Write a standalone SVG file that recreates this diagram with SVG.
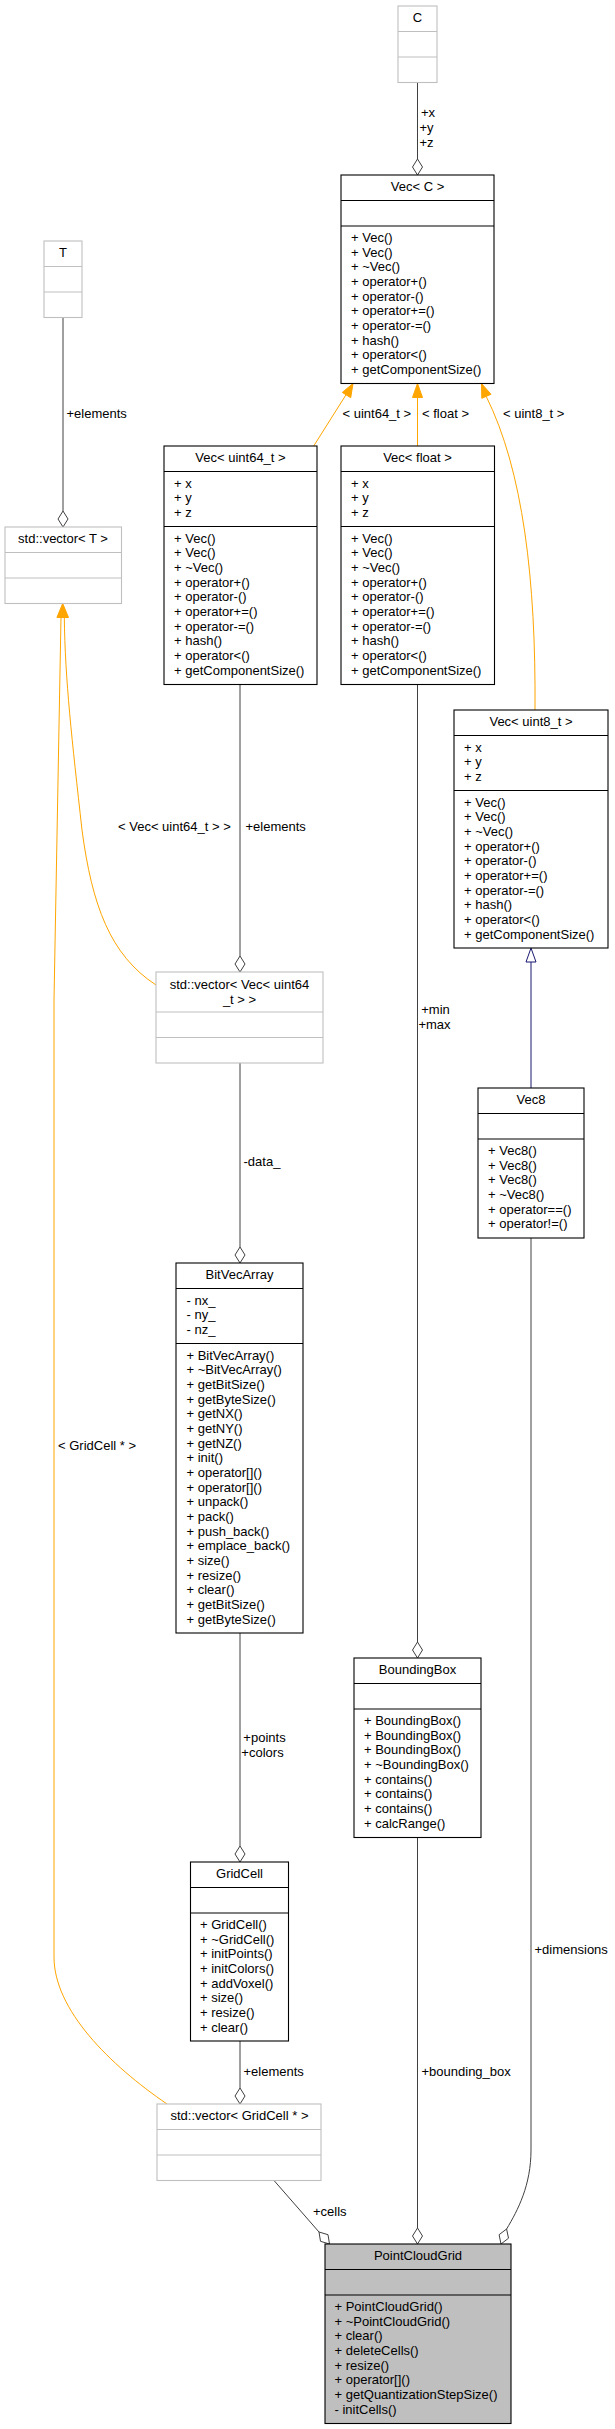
<svg xmlns="http://www.w3.org/2000/svg" width="615" height="2429" viewBox="0 0 615 2429">
<style>
text{font-family:"Liberation Sans",Arial,Helvetica,sans-serif;font-size:13px;fill:#000}
.t{text-anchor:middle}
.m{text-anchor:middle}
.box{fill:#fff;stroke:#000;stroke-width:1.1}
.gbox{fill:#fff;stroke:#bfbfbf;stroke-width:1.1}
.hl{fill:#bfbfbf;stroke:#000;stroke-width:1.1}
.sep{stroke:#000;stroke-width:1.1}
.gsep{stroke:#bfbfbf;stroke-width:1.1}
.e{stroke:#404040;fill:none;stroke-width:1}
.o{stroke:#ffa500;fill:none;stroke-width:1}
.b{stroke:#191970;fill:none;stroke-width:1}
.dia{fill:#fff;stroke:#404040;stroke-width:1}
.oh{fill:#ffa500;stroke:#ffa500}
.bh{fill:#fff;stroke:#191970}
</style>
<rect width="615" height="2429" fill="#fff"/>

<g id="edges">
  <!-- C -> Vec<C> -->
  <path class="e" d="M417.5,82.5V159"/>
  <polygon class="dia" points="417.5,175 422.5,167 417.5,159 412.5,167"/>
  <text x="421" y="117">+x</text>
  <text x="419.5" y="132">+y</text>
  <text x="419.5" y="147">+z</text>
  <!-- Vec<uint64_t> -> Vec<C> -->
  <path class="o" d="M313.7,446L346.5,394"/>
  <polygon class="oh" points="353,383.5 350.7,397.7 342.3,392.4"/>
  <text x="342.5" y="418">&lt; uint64_t &gt;</text>
  <!-- Vec<float> -> Vec<C> -->
  <path class="o" d="M417.5,446V397"/>
  <polygon class="oh" points="417.5,383.5 422.5,397.5 412.5,397.5"/>
  <text x="422" y="418">&lt; float &gt;</text>
  <!-- Vec<uint8_t> -> Vec<C> -->
  <path class="o" d="M535,710C536,580 523,470 486,396"/>
  <polygon class="oh" points="481.5,383.5 491,394.3 481.8,398.3"/>
  <text x="503" y="418">&lt; uint8_t &gt;</text>
  <!-- T -> std::vector<T> -->
  <path class="e" d="M63,317.5V511"/>
  <polygon class="dia" points="63,527 68,519 63,511 58,519"/>
  <text x="66.5" y="418">+elements</text>
  <!-- std::vector<Vec<uint64_t>> -> std::vector<T> -->
  <path class="o" d="M156,985C110,955 92,905 82,830C72,740 65,680 64.3,617"/>
  <!-- std::vector<GridCell*> -> std::vector<T> -->
  <path class="o" d="M167,2104C110,2065 54,2010 54,1957L54,1000L61,617"/>
  <polygon class="oh" points="62.7,603.5 68.5,617.5 56.9,617.5"/>
  <text x="118" y="831">&lt; Vec&lt; uint64_t &gt; &gt;</text>
  <text x="58" y="1450">&lt; GridCell * &gt;</text>
  <!-- Vec<uint64_t> -> std::vector<Vec<uint64_t>> -->
  <path class="e" d="M240,684.5V956"/>
  <polygon class="dia" points="240,972 245,964 240,956 235,964"/>
  <text x="245.5" y="831">+elements</text>
  <!-- Vec<float> -> BoundingBox -->
  <path class="e" d="M417.5,684.5V1642"/>
  <polygon class="dia" points="417.5,1658 422.5,1650 417.5,1642 412.5,1650"/>
  <text class="m" x="435.5" y="1014">+min</text>
  <text class="m" x="434.5" y="1029">+max</text>
  <!-- Vec8 -> Vec<uint8_t> -->
  <path class="b" d="M531,1088V962"/>
  <polygon class="bh" points="531,948 536,962 526,962"/>
  <!-- std::vector<Vec<uint64_t>> -> BitVecArray -->
  <path class="e" d="M240,1063V1247"/>
  <polygon class="dia" points="240,1263 245,1255 240,1247 235,1255"/>
  <text x="243.5" y="1166">-data_</text>
  <!-- BitVecArray -> GridCell -->
  <path class="e" d="M240,1633V1846"/>
  <polygon class="dia" points="240,1862 245,1854 240,1846 235,1854"/>
  <text class="m" x="264.5" y="1742">+points</text>
  <text class="m" x="262.5" y="1757">+colors</text>
  <!-- GridCell -> std::vector<GridCell*> -->
  <path class="e" d="M240,2041V2088"/>
  <polygon class="dia" points="240,2104 245,2096 240,2088 235,2096"/>
  <text x="243.5" y="2076">+elements</text>
  <!-- std::vector<GridCell*> -> PointCloudGrid -->
  <path class="e" d="M274,2180.5L319,2232"/>
  <polygon class="dia" points="329.5,2244 328,2234.7 319,2232 320.5,2241.3"/>
  <text x="313" y="2216">+cells</text>
  <!-- BoundingBox -> PointCloudGrid -->
  <path class="e" d="M417.5,1837.5V2228"/>
  <polygon class="dia" points="417.5,2244 422.5,2236 417.5,2228 412.5,2236"/>
  <text x="421.5" y="2076">+bounding_box</text>
  <!-- Vec8 -> PointCloudGrid -->
  <path class="e" d="M531,1238V2150C531,2185 518,2210 506.6,2229"/>
  <polygon class="dia" points="501,2244 508.5,2238.2 506.6,2229 499.1,2234.7"/>
  <text x="534.5" y="1954">+dimensions</text>
</g>

<g id="node-C">
  <rect class="gbox" x="398" y="6" width="39" height="76.5"/>
  <path class="gsep" d="M398,31.5H437M398,57H437"/>
  <text class="t" x="417.5" y="22">C</text>
</g>

<g id="node-VecC">
  <rect class="box" x="341" y="175" width="153" height="208.5"/>
  <path class="sep" d="M341,200.5H494M341,226H494"/>
  <text class="t" x="417.5" y="191">Vec&lt; C &gt;</text>
  <text x="351" y="242">+ Vec()</text>
  <text x="351" y="256.7">+ Vec()</text>
  <text x="351" y="271.3">+ ~Vec()</text>
  <text x="351" y="286">+ operator+()</text>
  <text x="351" y="300.7">+ operator-()</text>
  <text x="351" y="315.3">+ operator+=()</text>
  <text x="351" y="330">+ operator-=()</text>
  <text x="351" y="344.7">+ hash()</text>
  <text x="351" y="359.3">+ operator&lt;()</text>
  <text x="351" y="374">+ getComponentSize()</text>
</g>

<g id="node-T">
  <rect class="gbox" x="44" y="241" width="38" height="76.5"/>
  <path class="gsep" d="M44,266.5H82M44,292H82"/>
  <text class="t" x="63" y="257">T</text>
</g>

<g id="node-vectorT">
  <rect class="gbox" x="5" y="527" width="116.5" height="76.5"/>
  <path class="gsep" d="M5,552.5H121.5M5,578H121.5"/>
  <text class="t" x="63" y="543">std::vector&lt; T &gt;</text>
</g>

<g id="node-VecUint64">
  <rect class="box" x="164" y="446" width="153" height="238.5"/>
  <path class="sep" d="M164,471.5H317M164,526.5H317"/>
  <text class="t" x="240.5" y="462">Vec&lt; uint64_t &gt;</text>
  <text x="174" y="487.5">+ x</text>
  <text x="174" y="502.2">+ y</text>
  <text x="174" y="516.8">+ z</text>
  <text x="174" y="542.5">+ Vec()</text>
  <text x="174" y="557.2">+ Vec()</text>
  <text x="174" y="571.8">+ ~Vec()</text>
  <text x="174" y="586.5">+ operator+()</text>
  <text x="174" y="601.2">+ operator-()</text>
  <text x="174" y="615.8">+ operator+=()</text>
  <text x="174" y="630.5">+ operator-=()</text>
  <text x="174" y="645.2">+ hash()</text>
  <text x="174" y="659.8">+ operator&lt;()</text>
  <text x="174" y="674.5">+ getComponentSize()</text>
</g>

<g id="node-VecFloat">
  <rect class="box" x="341" y="446" width="153.5" height="238.5"/>
  <path class="sep" d="M341,471.5H494.5M341,526.5H494.5"/>
  <text class="t" x="417.5" y="462">Vec&lt; float &gt;</text>
  <text x="351" y="487.5">+ x</text>
  <text x="351" y="502.2">+ y</text>
  <text x="351" y="516.8">+ z</text>
  <text x="351" y="542.5">+ Vec()</text>
  <text x="351" y="557.2">+ Vec()</text>
  <text x="351" y="571.8">+ ~Vec()</text>
  <text x="351" y="586.5">+ operator+()</text>
  <text x="351" y="601.2">+ operator-()</text>
  <text x="351" y="615.8">+ operator+=()</text>
  <text x="351" y="630.5">+ operator-=()</text>
  <text x="351" y="645.2">+ hash()</text>
  <text x="351" y="659.8">+ operator&lt;()</text>
  <text x="351" y="674.5">+ getComponentSize()</text>
</g>

<g id="node-VecUint8">
  <rect class="box" x="454" y="710" width="154" height="238"/>
  <path class="sep" d="M454,735.5H608M454,790.5H608"/>
  <text class="t" x="531" y="726">Vec&lt; uint8_t &gt;</text>
  <text x="464" y="751.5">+ x</text>
  <text x="464" y="766.2">+ y</text>
  <text x="464" y="780.8">+ z</text>
  <text x="464" y="806.5">+ Vec()</text>
  <text x="464" y="821.2">+ Vec()</text>
  <text x="464" y="835.8">+ ~Vec()</text>
  <text x="464" y="850.5">+ operator+()</text>
  <text x="464" y="865.2">+ operator-()</text>
  <text x="464" y="879.8">+ operator+=()</text>
  <text x="464" y="894.5">+ operator-=()</text>
  <text x="464" y="909.2">+ hash()</text>
  <text x="464" y="923.8">+ operator&lt;()</text>
  <text x="464" y="938.5">+ getComponentSize()</text>
</g>

<g id="node-vectorVecUint64">
  <rect class="gbox" x="156" y="972" width="167" height="91"/>
  <path class="gsep" d="M156,1012H323M156,1037.5H323"/>
  <text class="t" x="239.5" y="989">std::vector&lt; Vec&lt; uint64</text>
  <text class="t" x="239.5" y="1003.5">_t &gt; &gt;</text>
</g>

<g id="node-Vec8">
  <rect class="box" x="478" y="1088" width="106" height="150"/>
  <path class="sep" d="M478,1113.5H584M478,1139H584"/>
  <text class="t" x="531" y="1104">Vec8</text>
  <text x="488" y="1155">+ Vec8()</text>
  <text x="488" y="1169.7">+ Vec8()</text>
  <text x="488" y="1184.3">+ Vec8()</text>
  <text x="488" y="1199">+ ~Vec8()</text>
  <text x="488" y="1213.7">+ operator==()</text>
  <text x="488" y="1228.3">+ operator!=()</text>
</g>

<g id="node-BitVecArray">
  <rect class="box" x="176" y="1263" width="127" height="370"/>
  <path class="sep" d="M176,1288.5H303M176,1343.5H303"/>
  <text class="t" x="239.5" y="1279">BitVecArray</text>
  <text x="186.5" y="1304.5">- nx_</text>
  <text x="186.5" y="1319.2">- ny_</text>
  <text x="186.5" y="1333.8">- nz_</text>
  <text x="186.5" y="1359.5">+ BitVecArray()</text>
  <text x="186.5" y="1374.2">+ ~BitVecArray()</text>
  <text x="186.5" y="1388.8">+ getBitSize()</text>
  <text x="186.5" y="1403.5">+ getByteSize()</text>
  <text x="186.5" y="1418.2">+ getNX()</text>
  <text x="186.5" y="1432.8">+ getNY()</text>
  <text x="186.5" y="1447.5">+ getNZ()</text>
  <text x="186.5" y="1462.2">+ init()</text>
  <text x="186.5" y="1476.8">+ operator[]()</text>
  <text x="186.5" y="1491.5">+ operator[]()</text>
  <text x="186.5" y="1506.2">+ unpack()</text>
  <text x="186.5" y="1520.8">+ pack()</text>
  <text x="186.5" y="1535.5">+ push_back()</text>
  <text x="186.5" y="1550.2">+ emplace_back()</text>
  <text x="186.5" y="1564.8">+ size()</text>
  <text x="186.5" y="1579.5">+ resize()</text>
  <text x="186.5" y="1594.2">+ clear()</text>
  <text x="186.5" y="1608.8">+ getBitSize()</text>
  <text x="186.5" y="1623.5">+ getByteSize()</text>
</g>

<g id="node-BoundingBox">
  <rect class="box" x="354" y="1658" width="127" height="179.5"/>
  <path class="sep" d="M354,1683.5H481M354,1709H481"/>
  <text class="t" x="417.5" y="1674">BoundingBox</text>
  <text x="364" y="1725">+ BoundingBox()</text>
  <text x="364" y="1739.7">+ BoundingBox()</text>
  <text x="364" y="1754.3">+ BoundingBox()</text>
  <text x="364" y="1769">+ ~BoundingBox()</text>
  <text x="364" y="1783.7">+ contains()</text>
  <text x="364" y="1798.3">+ contains()</text>
  <text x="364" y="1813">+ contains()</text>
  <text x="364" y="1827.7">+ calcRange()</text>
</g>

<g id="node-GridCell">
  <rect class="box" x="190.5" y="1862" width="98" height="179"/>
  <path class="sep" d="M190.5,1887.5H288.5M190.5,1913H288.5"/>
  <text class="t" x="239.5" y="1878">GridCell</text>
  <text x="200" y="1929">+ GridCell()</text>
  <text x="200" y="1943.7">+ ~GridCell()</text>
  <text x="200" y="1958.3">+ initPoints()</text>
  <text x="200" y="1973">+ initColors()</text>
  <text x="200" y="1987.7">+ addVoxel()</text>
  <text x="200" y="2002.3">+ size()</text>
  <text x="200" y="2017">+ resize()</text>
  <text x="200" y="2031.7">+ clear()</text>
</g>

<g id="node-vectorGridCell">
  <rect class="gbox" x="157" y="2104" width="164" height="76.5"/>
  <path class="gsep" d="M157,2129.5H321M157,2155H321"/>
  <text class="t" x="239.5" y="2120">std::vector&lt; GridCell * &gt;</text>
</g>

<g id="node-PointCloudGrid">
  <rect class="hl" x="325" y="2244" width="186" height="179.5"/>
  <path class="sep" d="M325,2269.5H511M325,2295H511"/>
  <text class="t" x="418" y="2260">PointCloudGrid</text>
  <text x="334.5" y="2311">+ PointCloudGrid()</text>
  <text x="334.5" y="2325.7">+ ~PointCloudGrid()</text>
  <text x="334.5" y="2340.3">+ clear()</text>
  <text x="334.5" y="2355">+ deleteCells()</text>
  <text x="334.5" y="2369.7">+ resize()</text>
  <text x="334.5" y="2384.3">+ operator[]()</text>
  <text x="334.5" y="2399">+ getQuantizationStepSize()</text>
  <text x="334.5" y="2413.7">- initCells()</text>
</g>
</svg>
